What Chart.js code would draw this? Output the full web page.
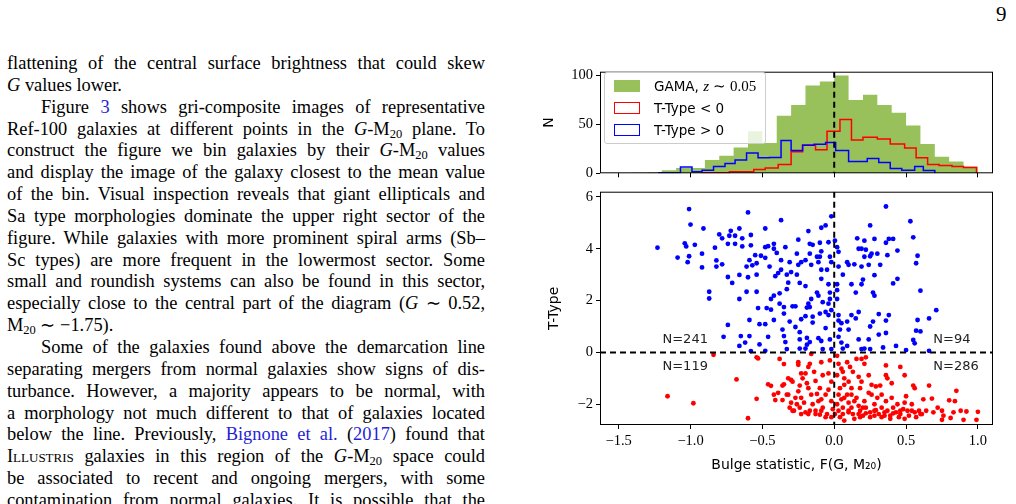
<!DOCTYPE html>
<html><head><meta charset="utf-8">
<script src="https://cdn.jsdelivr.net/npm/chart.js@4"></script>
<style>
body{margin:0;width:1016px;height:504px;overflow:hidden;background:#fff;position:relative;font-family:"Liberation Serif",serif;}
#txt{position:absolute;left:7px;top:53px;width:478px;font-size:18.4px;color:#000;}
#txt div{height:21.85px;line-height:21.85px;text-align:justify;text-align-last:justify;white-space:nowrap;}
#txt div.l{text-align-last:left;}
#txt div.i{padding-left:34px;}
.b{color:#1f1fd6}
sub{font-size:12.5px;line-height:0;vertical-align:-3px}
#pg{position:absolute;left:996px;top:2px;font-size:21px;}
canvas{position:absolute;}
#leg{position:absolute;left:604px;top:72px;width:160px;height:70px;background:rgba(255,255,255,0.8);border:1px solid #ccc;border-radius:3px;font-family:"DejaVu Sans",sans-serif;font-size:13.5px;}
#leg .r{position:absolute;left:9px;height:18px;line-height:18px;white-space:nowrap;}
#leg .sw{display:inline-block;width:26px;height:12px;vertical-align:-1px;margin-right:14px;box-sizing:border-box;}
</style></head><body>
<div id="pg">9</div>
<div id="txt">
<div>flattening of the central surface brightness that could skew</div>
<div class="l"><i>G</i> values lower.</div>
<div class="i">Figure <span class="b">3</span> shows gri-composite images of representative</div>
<div>Ref-100 galaxies at different points in the <i>G</i>-M<sub>20</sub> plane. To</div>
<div>construct the figure we bin galaxies by their <i>G</i>-M<sub>20</sub> values</div>
<div>and display the image of the galaxy closest to the mean value</div>
<div>of the bin. Visual inspection reveals that giant ellipticals and</div>
<div>Sa type morphologies dominate the upper right sector of the</div>
<div>figure. While galaxies with more prominent spiral arms (Sb–</div>
<div>Sc types) are more frequent in the lowermost sector. Some</div>
<div>small and roundish systems can also be found in this sector,</div>
<div>especially close to the central part of the diagram (<i>G</i> ∼ 0.52,</div>
<div class="l">M<sub>20</sub> ∼ −1.75).</div>
<div class="i">Some of the galaxies found above the demarcation line</div>
<div>separating mergers from normal galaxies show signs of dis-</div>
<div>turbance. However, a majority appears to be normal, with</div>
<div>a morphology not much different to that of galaxies located</div>
<div>below the line. Previously, <span class="b">Bignone et al.</span> (<span class="b">2017</span>) found that</div>
<div><span style="font-variant:small-caps">Illustris</span> galaxies in this region of the <i>G</i>-M<sub>20</sub> space could</div>
<div>be associated to recent and ongoing mergers, with some</div>
<div>contamination from normal galaxies. It is possible that the</div>
</div>
<canvas id="c1" style="left:530px;top:60px;width:470px;height:125px" width="470" height="125"></canvas>
<canvas id="c2" style="left:530px;top:180px;width:470px;height:300px" width="470" height="300"></canvas>
<div id="leg">
<div class="r" style="top:4px"><span class="sw" style="background:#98c15c"></span>GAMA, <i style="font-family:'Liberation Serif';font-size:15px">z</i> <span style="font-family:'Liberation Serif';font-size:15px">∼ 0.05</span></div>
<div class="r" style="top:26px"><span class="sw" style="border:1.5px solid red"></span>T-Type &lt; 0</div>
<div class="r" style="top:48px"><span class="sw" style="border:1.5px solid blue"></span>T-Type &gt; 0</div>
</div>
<script>
const greenEdges=[-1.5,-1.4,-1.3,-1.2,-1.1,-1.0,-0.9,-0.8,-0.7,-0.6,-0.5,-0.4,-0.3,-0.2,-0.1,0.0,0.1,0.2,0.3,0.4,0.5,0.6,0.7,0.8,0.9,1.0];
const greenCounts=[0.3,0.5,1,3,5.5,5.5,13.6,18,26.5,43,31,59,70,90,94,100,75,80.5,70,62,49,30,17,12,7];
const redEdges=[-0.92,-0.73,-0.56,-0.48,-0.39,-0.30,-0.22,-0.13,-0.05,0.04,0.12,0.20,0.30,0.39,0.49,0.57,0.65,0.73,0.82,0.90,0.99];
const redCounts=[0.5,1.6,4,5.5,9,22,29,24,43,55,34,37,35,30,26,16,9,8,7,6];
const blueEdges=[-1.22,-1.07,-0.99,-0.92,-0.84,-0.76,-0.69,-0.61,-0.53,-0.45,-0.37,-0.30,-0.22,-0.14,-0.06,0.01,0.10,0.23,0.31,0.39,0.47,0.56,0.62,0.70];
const blueCounts=[0.6,6.5,1.6,3.2,7,10,13.6,20.7,15.9,16.2,33.7,23.3,28.8,29.8,31.4,23.3,12,15.2,11,4.9,3.2,7,2.9];
const xTicks=[-1.5,-1.0,-0.5,0.0,0.5,1.0];
const histTicks=[0,50,100];
const tTicks=[-2,0,2,4,6];
const quadLabels=[["N=241",-1.195,0.48],["N=94",0.69,0.48],["N=119",-1.195,-0.56],["N=286",0.69,-0.56]];
const blueGalaxies=[[-1.23,4.04],[-1.09,3.66],[-1.01,5.53],[-1.00,4.93],[-1.04,4.21],[-1.03,4.09],[-1.01,3.71],[-1.02,3.48],[-0.97,4.15],[-0.91,4.78],[-0.92,3.81],[-0.92,3.28],[-0.87,2.34],[-0.87,2.08],[-0.83,4.04],[-0.82,3.55],[-0.82,3.31],[-0.78,3.40],[-0.80,4.55],[-0.78,4.40],[-0.74,2.91],[-0.71,2.68],[-0.74,1.06],[-0.77,0.60],[-0.66,0.25],[-0.66,2.06],[-0.66,2.99],[-0.60,2.90],[-0.61,2.34],[-0.54,2.34],[-0.54,3.00],[-0.59,1.25],[-0.65,0.63],[-0.62,0.38],[-0.59,0.63],[-0.58,0.05],[-0.52,0.31],[-0.48,0.06],[-0.53,1.71],[-0.52,1.09],[-0.48,1.09],[-0.46,0.60],[-0.47,1.71],[-0.42,1.25],[-0.44,1.65],[-0.38,1.88],[-0.35,1.75],[-0.35,1.50],[-0.35,0.63],[-0.34,0.40],[-0.33,0.13],[-0.36,0.88],[-0.31,1.19],[-0.27,0.98],[-0.24,0.15],[-0.24,0.78],[-0.24,0.50],[-0.19,0.56],[-0.19,0.30],[-0.20,0.15],[-0.17,0.40],[-0.11,0.55],[-0.09,0.44],[-0.08,0.13],[-0.06,0.94],[-0.03,0.50],[-0.02,0.13],[-0.29,1.78],[-0.27,1.78],[-0.23,1.28],[-0.18,1.88],[-0.19,1.73],[-0.17,1.75],[-0.20,1.40],[-0.15,1.38],[-0.15,1.15],[-0.10,1.50],[-0.08,1.94],[-0.06,1.56],[-0.04,1.44],[-0.03,2.31],[-0.03,2.06],[-0.02,1.63],[-0.04,1.88],[-0.42,2.19],[-0.44,2.06],[-0.38,2.28],[-0.33,2.44],[-0.32,2.69],[-0.33,3.00],[-0.30,3.10],[-0.26,3.00],[-0.24,2.68],[-0.20,2.56],[-0.16,2.06],[-0.12,2.31],[-0.11,2.19],[-0.09,2.84],[-0.04,2.63],[-0.09,3.19],[-0.05,3.19],[-0.41,2.94],[-0.39,3.06],[-0.37,3.19],[-0.45,3.31],[-0.48,3.65],[-0.51,3.73],[-0.55,3.75],[-0.54,3.44],[-0.57,3.36],[-0.61,3.31],[-0.59,3.56],[-0.58,4.13],[-0.64,4.09],[-0.64,4.40],[-0.69,4.50],[-0.66,4.78],[-0.72,4.69],[-0.73,4.50],[-0.74,4.19],[-0.69,4.19],[-0.58,4.53],[-0.60,5.40],[-0.48,4.78],[-0.48,4.06],[-0.46,4.10],[-0.42,4.00],[-0.40,3.84],[-0.42,4.19],[-0.37,5.10],[-0.34,4.06],[-0.37,3.56],[-0.31,3.48],[-0.26,3.81],[-0.25,3.38],[-0.23,3.48],[-0.25,4.35],[-0.20,3.56],[-0.17,3.81],[-0.16,3.38],[-0.12,3.69],[-0.10,3.69],[-0.11,3.48],[-0.09,3.90],[-0.17,4.19],[-0.15,4.15],[-0.18,4.68],[-0.09,4.81],[-0.06,4.90],[-0.02,5.25],[-0.10,4.23],[-0.03,3.69],[-0.02,3.48],[-0.04,4.25],[0.005,4.31],[0.02,4.06],[0.03,3.88],[0.03,3.31],[0.02,2.63],[0.02,2.40],[0.02,2.06],[0.03,1.44],[0.03,1.23],[0.05,1.13],[0.04,0.88],[0.03,0.60],[0.05,0.38],[0.06,0.15],[0.09,0.25],[0.10,0.88],[0.09,1.19],[0.12,1.44],[0.06,3.00],[0.10,3.38],[0.09,3.48],[0.14,3.40],[0.12,2.63],[0.15,2.31],[0.17,1.56],[0.15,1.31],[0.17,0.50],[0.19,0.13],[0.21,0.15],[0.24,0.50],[0.25,0.13],[0.25,1.00],[0.27,1.19],[0.19,2.63],[0.20,2.81],[0.24,3.38],[0.19,3.31],[0.17,4.00],[0.19,4.00],[0.16,4.40],[0.21,4.31],[0.22,3.96],[0.21,3.69],[0.25,4.90],[0.25,3.71],[0.26,3.81],[0.28,4.38],[0.30,3.81],[0.28,2.98],[0.27,2.31],[0.28,2.19],[0.32,3.38],[0.31,1.48],[0.31,0.69],[0.34,0.19],[0.36,0.75],[0.36,1.23],[0.38,1.44],[0.36,5.63],[0.36,4.23],[0.38,4.38],[0.41,4.38],[0.37,3.75],[0.44,3.93],[0.41,2.66],[0.44,2.84],[0.43,0.25],[0.50,0.09],[0.53,5.06],[0.55,4.44],[0.58,3.73],[0.57,3.44],[0.60,2.38],[0.58,1.25],[0.57,0.84],[0.60,0.81],[0.55,0.48],[0.56,0.35],[0.66,1.31],[0.71,1.63],[0.66,0.06]];
const redGalaxies=[[-0.84,-0.09],[-0.68,-1.04],[-0.54,-0.19],[-0.53,-0.23],[-0.54,-1.79],[-0.60,-2.54],[-1.16,-1.69],[-0.98,-1.96],[-0.38,-0.25],[-0.35,-0.45],[-0.46,-1.23],[-0.44,-1.29],[-0.42,-1.63],[-0.41,-1.84],[-0.39,-1.56],[-0.36,-1.28],[-0.35,-1.23],[-0.36,-1.84],[-0.32,-1.00],[-0.30,-1.06],[-0.29,-1.13],[-0.32,-1.63],[-0.30,-1.94],[-0.29,-2.25],[-0.26,-2.00],[-0.25,-0.38],[-0.25,-0.48],[-0.23,-0.81],[-0.22,-1.00],[-0.24,-1.28],[-0.25,-1.50],[-0.23,-1.75],[-0.24,-2.13],[-0.20,-2.31],[-0.19,-1.19],[-0.18,-1.38],[-0.17,-0.44],[-0.16,-0.06],[-0.14,-0.75],[-0.13,-1.10],[-0.16,-1.63],[-0.15,-2.00],[-0.13,-2.25],[-0.11,-1.88],[-0.09,-0.38],[-0.08,-0.88],[-0.10,-1.38],[-0.06,-1.63],[-0.08,-2.13],[-0.05,-2.38],[-0.04,-0.81],[-0.03,-0.31],[-0.02,-1.13],[-0.02,-1.88],[-0.01,-2.19],[-0.04,-1.44],[-0.18,-0.56],[-0.20,-0.81],[-0.12,-1.60],[-0.09,-1.81],[-0.21,-1.94],[-0.27,-1.75],[-0.17,-2.25],[-0.10,-2.40],[-0.02,-2.50],[0.02,-0.13],[0.03,-0.44],[0.05,-0.63],[0.02,-0.88],[0.06,-0.75],[0.07,-1.00],[0.09,-0.38],[0.11,-0.56],[0.10,-1.13],[0.12,-1.38],[0.13,-0.75],[0.155,-0.25],[0.19,-0.25],[0.21,-0.44],[0.22,-0.19],[0.17,-0.94],[0.19,-1.13],[0.24,-0.88],[0.26,-1.25],[0.29,-1.31],[0.32,-1.28],[0.36,-0.50],[0.36,-0.88],[0.37,-1.00],[0.40,-1.19],[0.46,-0.56],[0.49,-0.88],[0.55,-1.28],[0.56,-1.38],[0.66,-1.28],[0.85,-1.48],[0.04,-1.38],[0.03,-1.63],[0.05,-1.81],[0.02,-2.00],[0.03,-2.25],[0.06,-2.38],[0.09,-1.63],[0.10,-1.94],[0.12,-2.13],[0.13,-2.38],[0.155,-1.75],[0.17,-2.06],[0.18,-2.25],[0.20,-2.44],[0.21,-1.88],[0.22,-2.13],[0.25,-2.31],[0.26,-1.63],[0.28,-2.00],[0.29,-2.23],[0.31,-2.38],[0.33,-2.13],[0.35,-2.31],[0.36,-1.88],[0.37,-2.25],[0.39,-2.44],[0.41,-2.13],[0.43,-2.31],[0.44,-2.00],[0.46,-2.38],[0.48,-2.19],[0.50,-1.69],[0.51,-2.25],[0.52,-2.44],[0.54,-2.00],[0.56,-2.31],[0.57,-2.50],[0.59,-2.25],[0.61,-2.38],[0.62,-1.81],[0.68,-1.78],[0.69,-2.31],[0.72,-2.13],[0.75,-2.25],[0.75,-2.60],[0.80,-1.85],[0.81,-2.53],[0.84,-1.88],[0.88,-2.25],[0.90,-2.60],[0.92,-2.28],[0.99,-2.60],[1.00,-2.29],[0.76,-2.44],[0.83,-2.31],[0.07,-2.63],[0.005,-2.38],[0.04,-2.50],[0.10,-2.31],[0.14,-2.56],[0.18,-2.50],[0.25,-2.50],[0.28,-2.44],[0.33,-2.50],[0.39,-2.56],[0.45,-2.50],[0.49,-2.56],[0.07,-1.75],[0.14,-1.88],[0.20,-2.13],[0.30,-1.75],[0.40,-1.75],[0.49,-1.94],[0.07,-1.25],[0.12,-1.63],[0.18,-1.38],[0.24,-1.56],[0.33,-1.63],[0.06,-2.13],[0.10,-2.25],[0.17,-2.38],[0.22,-2.35],[0.28,-2.25],[0.35,-2.44],[0.41,-2.35],[0.46,-2.25],[0.54,-2.25],[0.60,-2.38],[0.64,-2.25],[-0.33,-1.63],[-0.31,-2.13],[-0.28,-2.25],[-0.23,-2.38],[-0.18,-2.38],[-0.13,-2.38],[-0.09,-2.25],[-0.06,-2.50]];

function steps(edges,counts){
  const p=[{x:edges[0],y:0}];
  counts.forEach((c,i)=>p.push({x:edges[i],y:c}));
  p.push({x:edges[edges.length-1],y:0});
  return p;
}
const minus=v=>String(v).replace('-','−');
const fmt1=v=>minus(v.toFixed(1));
const frame={id:'frame',afterDatasetsDraw(ch,a,o){
  const c=ch.ctx,ar=ch.chartArea,x=ch.scales.x,y=ch.scales.y;
  c.save();
  c.beginPath();c.rect(ar.left,ar.top,ar.right-ar.left,ar.bottom-ar.top);c.clip();
  c.strokeStyle='#000';c.lineWidth=2;c.setLineDash([6,4]);
  const x0=x.getPixelForValue(0);
  c.beginPath();c.moveTo(x0,ar.top);c.lineTo(x0,ar.bottom);c.stroke();
  if(o.hline){const y0=y.getPixelForValue(0);c.beginPath();c.moveTo(ar.left,y0);c.lineTo(ar.right,y0);c.stroke();}
  c.restore();
  c.save();c.setLineDash([]);c.strokeStyle='#000';c.lineWidth=1;
  c.strokeRect(ar.left+0.5,ar.top+0.5,ar.right-ar.left-1,ar.bottom-ar.top-1);
  if(o.labels){c.font='13px "DejaVu Sans"';c.fillStyle='#222';c.textBaseline='middle';
    quadLabels.forEach(q=>c.fillText(q[0],x.getPixelForValue(q[1]),y.getPixelForValue(q[2])));}
  c.restore();
}};
const tickFont={family:'"Liberation Serif"',size:14.5};
function xScale(showLabels,h,title){
  return {type:'linear',min:-1.63,max:1.105,
    afterBuildTicks:s=>{s.ticks=xTicks.map(v=>({value:v}));},
    afterFit:s=>{s.height=h;},
    grid:{drawOnChartArea:false,drawTicks:true,tickLength:4,color:'#000'},
    border:{display:false},
    ticks:{display:showLabels,color:'#000',font:tickFont,padding:3,maxRotation:0,callback:v=>fmt1(v)},
    title:title?{display:true,text:'Bulge statistic, F(G, M₂₀)',color:'#000',font:{family:'"DejaVu Sans"',size:14},padding:{top:2,bottom:6}}:{display:false}};
}
function yScale(min,max,ticks,title,tp){
  return {type:'linear',min,max,
    afterBuildTicks:s=>{s.ticks=ticks.map(v=>({value:v}));},
    afterFit:s=>{s.width=70;},
    grid:{drawOnChartArea:false,tickLength:4,color:'#000'},border:{display:false},
    ticks:{color:'#000',font:tickFont,padding:3,callback:v=>minus(v)},
    title:{display:true,text:title,color:'#000',font:{family:'"DejaVu Sans"',size:14},padding:{top:tp,bottom:0}}};
}
Chart.defaults.animation=false;
new Chart(document.getElementById('c1'),{type:'line',
  data:{datasets:[
    {data:steps(greenEdges,greenCounts),order:3,stepped:true,fill:'origin',backgroundColor:'#98c15c',borderWidth:0,pointRadius:0},
    {data:steps(redEdges,redCounts),order:2,stepped:true,fill:false,borderColor:'red',borderWidth:1.5,pointRadius:0},
    {data:steps(blueEdges,blueCounts),order:1,stepped:true,fill:false,borderColor:'blue',borderWidth:1.5,pointRadius:0}]},
  options:{responsive:false,layout:{padding:{top:9,right:7,left:0,bottom:0}},
    plugins:{legend:{display:false},tooltip:{enabled:false},frame:{}},
    scales:{x:xScale(false,9,false),y:yScale(0,104,histTicks,'N',11)}},
  plugins:[frame]});
new Chart(document.getElementById('c2'),{type:'scatter',
  data:{datasets:[
    {data:blueGalaxies.map(p=>({x:p[0],y:p[1]})),backgroundColor:'blue',borderWidth:0,pointRadius:2.4},
    {data:redGalaxies.map(p=>({x:p[0],y:p[1]})),backgroundColor:'red',borderWidth:0,pointRadius:2.4}]},
  options:{responsive:false,layout:{padding:{top:4,right:7,left:0,bottom:0}},
    plugins:{legend:{display:false},tooltip:{enabled:false},frame:{hline:true,labels:true}},
    scales:{x:xScale(true,55,true),y:yScale(-2.8,6.2,tTicks,'T-Type',16)}},
  plugins:[frame]});
</script>
</body></html>
